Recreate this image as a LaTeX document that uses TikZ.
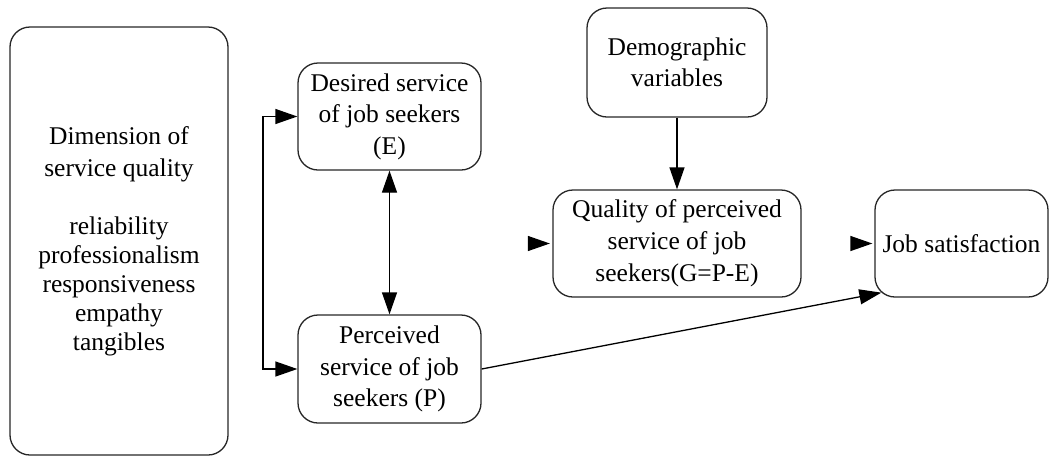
\documentclass[tikz,border=0pt]{standalone}
\usepackage{fontspec}
\setmainfont{Liberation Serif}
\usetikzlibrary{arrows.meta,calc}
\begin{document}
\begin{tikzpicture}[x=1pt,y=-1pt,
  box/.style={draw=black!85, line width=1.3pt, rounded corners=20pt,
    align=center, inner sep=0pt, font=\fontsize{25.5}{31.5}\selectfont},
  arr/.style={line width=1.3pt, -{Triangle[length=22pt,width=15pt]}},
  arrboth/.style={line width=1.3pt,
    {Triangle[length=22pt,width=15pt]}-{Triangle[length=22pt,width=15pt]}}]
\useasboundingbox (0,0) rectangle (1049,456);

% boxes
\node[box, minimum width=218pt, minimum height=428pt,
      font=\fontsize{25.5}{29}\selectfont] (dim) at (119,241)
  {Dimension of\\[3pt]service quality\\[29pt]reliability\\professionalism\\responsiveness\\empathy\\tangibles};
\node[box, minimum width=183pt, minimum height=107pt] (des) at (389.5,116.5)
  {Desired service\\of job seekers\\(E)};
\node[box, minimum width=183pt, minimum height=108pt] (per) at (389.5,369)
  {Perceived\\service of job\\seekers (P)};
\node[box, minimum width=180pt, minimum height=109pt] (dem) at (677,62.5)
  {Demographic\\variables};
\node[box, minimum width=248pt, minimum height=107pt,
      font=\fontsize{25.5}{32}\selectfont] (qua) at (677,243.5)
  {Quality of perceived\\service of job\\seekers(G=P-E)};
\node[box, minimum width=173pt, minimum height=107pt] (job) at (961.5,243.5)
  {Job satisfaction};

% connectors
\coordinate (brk) at (263,242);
\draw[arr] (brk) |- (des.west);
\draw[arr] (brk) |- (per.west);
\draw[arrboth] (des) -- (per);
\draw[arr] (dem) -- (qua);
\coordinate (qin) at (528,243.5);
\draw[arr, shorten >=2.5pt] (qin) -- (qua.west);
\coordinate (jin) at (851,243.5);
\draw[arr, shorten >=2pt] (jin) -- (job.west);
\draw[arr] (per.east) -- ([shift={(7,-5)}]job.south west);
\end{tikzpicture}
\end{document}
